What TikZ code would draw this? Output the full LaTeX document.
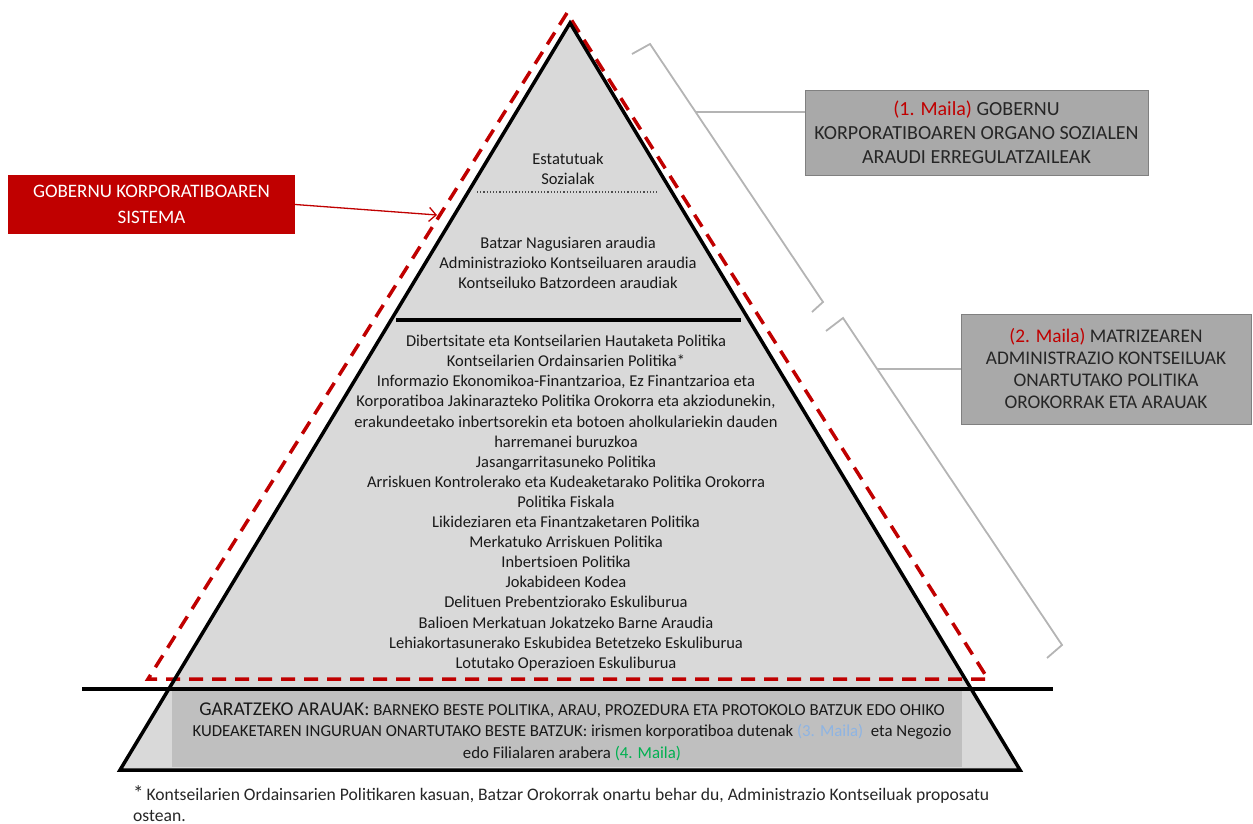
\documentclass[tikz,border=0pt]{standalone}
\usepackage{fontspec}
\setmainfont{Carlito}
\usepackage{tikz}
\usetikzlibrary{positioning,arrows.meta}
\definecolor{mailared}{HTML}{C00000}
\definecolor{mailablue}{HTML}{8EB4E3}
\definecolor{mailagreen}{HTML}{00B050}
\definecolor{pirfill}{HTML}{D9D9D9}
\definecolor{pirdark}{HTML}{BFBFBF}
\definecolor{boxfill}{HTML}{A9A9A9}
\definecolor{brackgray}{HTML}{B4B4B4}
\newcommand{\pirfont}{\fontsize{16.5}{20.1}\selectfont}

\begin{document}
\begin{tikzpicture}[x=1pt,y=-1pt,
    pirline/.style={line width=3.5pt},
    reddash/.style={draw=mailared,line width=3.5pt,dash pattern=on 14pt off 9pt},
    bracket/.style={draw=brackgray,line width=1.8pt},
    levelbox/.style={draw=gray,fill=boxfill,align=center,inner sep=0pt,text=black!85},
    pirtxt/.style={align=center,font=\pirfont,text=black!90}]
      \useasboundingbox (0,0) rectangle (1253,824);
      \fill[pirfill] (570,23) -- (120,770) -- (1020,770) -- cycle;
      \fill[pirdark] (172,690) rectangle (962,767);
      \draw[reddash] (567,13) -- (148,679) -- (988,679) -- cycle;
      \draw[pirline, line join=miter] (570,23) -- (120,770) -- (1020,770) -- cycle;
      \draw[pirline] (82,689) -- (1053,689);
      \draw[pirline] (396,320) -- (741,320);
      \draw[dotted, line width=1.2pt, black!70] (477,192) -- (658,192);

      \node[pirtxt] (n1) at (568,169) {Estatutuak\\Sozialak};
      \node[pirtxt] (n2) at (568,263) {Batzar Nagusiaren araudia\\Administrazioko Kontseiluaren araudia\\Kontseiluko Batzordeen araudiak};
      \node[pirtxt] (n3) at (566,503) {Dibertsitate eta Kontseilarien Hautaketa Politika\\
        Kontseilarien Ordainsarien Politika*\\
        Informazio Ekonomikoa-Finantzarioa, Ez Finantzarioa eta\\
        Korporatiboa Jakinarazteko Politika Orokorra eta akziodunekin,\\
        erakundeetako inbertsorekin eta botoen aholkulariekin dauden\\
        harremanei buruzkoa\\
        Jasangarritasuneko Politika\\
        Arriskuen Kontrolerako eta Kudeaketarako Politika Orokorra\\
        Politika Fiskala\\
        Likideziaren eta Finantzaketaren Politika\\
        Merkatuko Arriskuen Politika\\
        Inbertsioen Politika\\
        Jokabideen Kodea\\
        Delituen Prebentziorako Eskuliburua\\
        Balioen Merkatuan Jokatzeko Barne Araudia\\
        Lehiakortasunerako Eskubidea Betetzeko Eskuliburua\\
        Lotutako Operazioen Eskuliburua};
      \node[align=center, font=\fontsize{16.8}{21.5}\selectfont, text=black!90] (n4) at (572,731.5) {{\fontsize{19.5}{21.5}\selectfont GARATZEKO ARAUAK:} BARNEKO BESTE POLITIKA, ARAU, PROZEDURA ETA PROTOKOLO BATZUK EDO OHIKO\\
        KUDEAKETAREN INGURUAN ONARTUTAKO BESTE BATZUK: irismen korporatiboa dutenak \textcolor{mailablue}{(3. Maila)}\ \ eta Negozio\\
        edo Filialaren arabera \textcolor{mailagreen}{(4. Maila)}};
      \node[anchor=north west, align=left, inner sep=0pt, font=\fontsize{17.6}{21}\selectfont, text=black!85] (n5) at (133,785) {{\fontsize{21}{21}\selectfont *}\,Kontseilarien Ordainsarien Politikaren kasuan, Batzar Orokorrak onartu behar du, Administrazio Kontseiluak proposatu\\ostean.};

      \node[fill=mailared, text=white, minimum width=287pt, minimum height=59pt, align=center, font=\fontsize{19}{26}\selectfont] (n6) at (151.5,204.5) {GOBERNU KORPORATIBOAREN\\SISTEMA};
      \coordinate (c1) at (437,215);
      \draw[mailared, line width=1.3pt, -{Straight Barb[length=7pt,width=14pt]}] (n6.east) -- (c1);

      \node[levelbox, minimum width=343pt, minimum height=85pt, font=\fontsize{20}{24}\selectfont] (n7) at (976.5,132.5) {\textcolor{mailared}{(1. Maila)} GOBERNU\\KORPORATIBOAREN ORGANO SOZIALEN\\ARAUDI ERREGULATZAILEAK};
      \node[levelbox, minimum width=290pt, minimum height=110pt, font=\fontsize{19.3}{22}\selectfont] (n8) at (1106,369) {\textcolor{mailared}{(2. Maila)} MATRIZEAREN\\ADMINISTRAZIO KONTSEILUAK\\ONARTUTAKO POLITIKA\\OROKORRAK ETA ARAUAK};

      \draw[bracket] (632,54) -- (650,44) -- (823,302) -- (812,312);
      \coordinate (c2) at (696,112);
      \draw[bracket] (c2) -- (c2 -| n7.west);
      \draw[bracket] (826,331) -- (843,318) -- (1062,645) -- (1047,658);
      \coordinate (c3) at (877,369);
      \draw[bracket] (c3) -- (n8.west);
    \end{tikzpicture}
\end{document}
